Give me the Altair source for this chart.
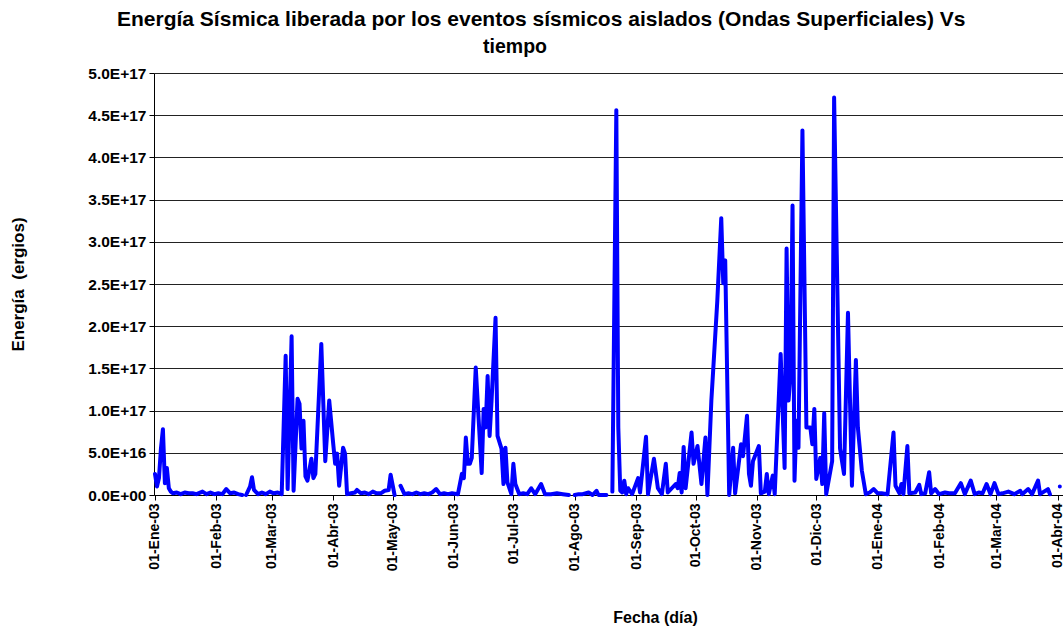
import altair as alt
import pandas as pd

# Días transcurridos desde el 01-Ene-2003 y energía liberada (en unidades de 1e16 ergios).
# Un valor None corta la línea (días sin registro).
dia = [0, 1, 2, 3, 4, 5, 6, 7, 8, 9, 11, 13, 15, 17, 19, 21, 24, 26, 28, 30, 32, 34, 36, 38, 40, 42, 44, 45, 46,
       48, 49, 50, 52, 54, 56, 58, 60, 62, 64, 66, 67, 69, 70, 72, 73, 74, 75, 76, 77, 79, 80, 81, 84, 86, 88,
       90, 91, 92, 93, 95, 96, 97, 99, 101, 102, 104, 106, 108, 110, 112, 114, 116, 118, 119, 121, 122, 124,
       126, 128, 130, 132, 134, 136, 138, 140, 142, 144, 146, 148, 150, 153, 155, 156, 157, 158, 159, 160,
       162, 165, 166, 167, 168, 169, 170, 172, 173, 175, 176, 177, 178, 180, 181, 182, 184, 186, 188, 190,
       192, 195, 197, 200, 203, 206, 209, 210, 212, 214, 216, 219, 221, 223, 224, 226, 228, 229, 231, 233,
       234, 235, 236, 237, 238, 239, 241, 244, 245, 248, 249, 252, 254, 256, 258, 259, 261, 263, 264, 265,
       266, 267, 268, 271, 272, 274, 276, 278, 279, 281, 282, 284, 286, 287, 288, 290, 292, 293, 296, 297,
       299, 300, 301, 302, 305, 306, 308, 309, 310, 312, 313, 316, 318, 319, 320, 321, 322, 323, 324, 325,
       327, 329, 331, 332, 333, 334, 336, 337, 338, 339, 342, 343, 346, 348, 350, 352, 354, 355, 357, 359,
       361, 363, 365, 367, 370, 373, 374, 376, 377, 378, 380, 381, 384, 386, 387, 389, 391, 392, 394, 396,
       399, 401, 404, 407, 409, 412, 414, 416, 418, 420, 422, 424, 426, 428, 431, 434, 437, 438, 441, 443,
       446, 447, 451, 452, 453, 457]

energia_e16 = [2.5, 1.0, 2.0, 5.5, 7.8, 1.4, 3.2, 0.8, 0.4, 0.2, 0.3, 0.1, 0.3, 0.2, 0.2, 0.1, 0.4, 0.1, 0.3, 0.1,
               0.2, 0.1, 0.7, 0.2, 0.3, 0.1, 0.0, None, 0.0,
               1.0, 2.1, 0.6, 0.1, 0.3, 0.1, 0.4, 0.2, 0.3, 0.1, 16.5, 0.7, 18.8, 0.5, 11.4, 10.8, 5.5, 8.8, 2.2,
               1.7, 4.3, 2.0, 2.5, 17.9, 4.0, 11.2,
               6.1, 3.7, 4.9, 1.1, 5.6, 4.9, 0.1, 0.2, 0.3, 0.6, 0.2, 0.3, 0.1, 0.4, 0.2, 0.2, 0.5, 0.6, 2.4, 0.0,
               None, 1.1,
               0.1, 0.2, 0.1, 0.3, 0.1, 0.2, 0.1, 0.3, 0.7, 0.1, 0.2, 0.1, 0.2, 0.1, 2.5, 2.0, 6.8, 3.7, 3.7, 4.4,
               15.1, 2.6, 10.2, 8.0, 14.1, 7.0, 11.2, 21.0, 7.0, 5.5, 1.3, 5.6, 1.5, 0.1, 3.7, 1.3, 0.1, 0.2, 0.1,
               0.8,
               0.1, 1.3, 0.1, 0.1, 0.2, 0.1, 0.0, None, 0.0, 0.1, 0.1, 0.3, 0.0, 0.5, 0.0, 0.0, 0.0, None, 0.4,
               45.6,
               8.0, 0.5, 0.3, 1.7, 0.1, 0.8, 0.1, 2.0, 0.3, 6.9, 0.1, 4.3, 0.8, 0.1, 3.7, 0.3, 0.8, 1.3, 0.8, 2.6,
               0.3, 5.7, 0.8, 7.4, 3.7, 5.8, 1.3, 6.8, 0.0, 11.2, 15.1, 23.0, 32.8, 25.1, 27.8, 0.0, 5.6, 0.2, 6.0,
               4.6,
               9.4, 2.5, 1.1, 4.0, 5.8, 0.2, 0.4, 2.5, 0.1, 2.3, 0.1, 16.7, 3.2, 29.2, 11.2, 14.4, 34.3, 1.7, 8.8,
               5.6,
               43.2, 8.0, 8.0, 6.0, 10.2, 1.9, 4.4, 1.3, 9.7, 0.1, 4.0, 47.1, 5.5, 2.5, 21.6, 1.1, 16.0, 8.0, 2.9,
               0.1,
               0.3, 0.7, 0.2, 0.2, 0.1, 7.4, 1.1, 0.2, 1.3, 0.1, 5.8, 0.2, 0.3, 1.2, 0.1, 0.2, 2.7, 0.2, 0.7, 0.1,
               0.3, 0.2, 0.2, 1.4, 0.1, 1.7, 0.1, 0.3, 0.2, 1.3, 0.1, 1.4, 0.1, 0.2, 0.4, 0.1, 0.5, 0.1, 0.7, 0.1,
               1.7, 0.1, 0.7, 0.1, None, 1.0]

# Marcas del eje X: primer día de cada mes (días desde el 01-Ene-2003)
meses_ticks = [0, 31, 59, 90, 120, 151, 181, 212, 243, 273, 304, 334, 365, 396, 425, 456]
ticks_y = [0, 5e16, 1e17, 1.5e17, 2e17, 2.5e17, 3e17, 3.5e17, 4e17, 4.5e17, 5e17]

titulo_1 = "Energía Sísmica liberada por los eventos sísmicos aislados (Ondas Superficiales) Vs"
titulo_2 = "tiempo"
titulo_y = "Energía\u00a0 (ergios)"
titulo_x = "Fecha (día)"

df = pd.DataFrame({
    "dia": dia,
    "energia": [None if v is None else v * 1e16 for v in energia_e16],
})

FONT = "Liberation Sans"

mes_expr = ("'01-' + ['Ene','Feb','Mar','Abr','May','Jun','Jul','Ago','Sep','Oct','Nov','Dic']"
            "[month(datetime(2003, 0, 1 + datum.value))] + '-' + "
            "timeFormat(datetime(2003, 0, 1 + datum.value), '%y')")

x = alt.X(
    "dia:Q",
    scale=alt.Scale(domain=[-0.5, 458.6], nice=False, zero=False),
    axis=alt.Axis(
        values=meses_ticks, labelExpr=mes_expr, labelAngle=270, labelAlign="right",
        labelBaseline="middle", labelFont=FONT, labelFontWeight="bold", labelFontSize=14,
        labelColor="black", labelPadding=3, tickColor="black", tickSize=5, domainColor="black",
        grid=False, title=titulo_x, titleFont=FONT, titleFontWeight="bold", titleFontSize=16,
        titleColor="black", titleX=501, titleY=122, titleBaseline="middle", titleAlign="center",
    ),
)
y = alt.Y(
    "energia:Q",
    scale=alt.Scale(domain=[0, 5e17], nice=False),
    axis=alt.Axis(
        values=ticks_y,
        labelExpr="datum.value == 0 ? '0.0E+00' : upper(format(datum.value, '.1e'))",
        labelFont=FONT, labelFontWeight="bold", labelFontSize=15.5, labelColor="black", labelPadding=3,
        tickColor="black", tickSize=5, domainColor="black",
        grid=True, gridColor="#222222", gridWidth=1,
        title=titulo_y, titleFont=FONT, titleFontWeight="bold", titleFontSize=17,
        titleColor="black", titleAngle=270, titleX=-136, titleY=211, titleAlign="center",
        titleBaseline="middle",
    ),
)

linea = alt.Chart(df).mark_line(color="#0000FF", strokeWidth=4, strokeJoin="round",
                                strokeCap="round").encode(x=x, y=y)

df_tit = pd.DataFrame({"texto": [titulo_1, titulo_2], "linea": [1, 2]})
tit1 = alt.Chart(df_tit).transform_filter("datum.linea == 1").mark_text(
    font=FONT, fontWeight="bold", fontSize=21, align="left", baseline="middle", color="black"
).encode(text="texto:N", x=alt.value(-37), y=alt.value(-53))
tit2 = alt.Chart(df_tit).transform_filter("datum.linea == 2").mark_text(
    font=FONT, fontWeight="bold", fontSize=19.5, align="center", baseline="middle", color="black"
).encode(text="texto:N", x=alt.value(361), y=alt.value(-26))

chart = alt.layer(linea, tit1, tit2).properties(
    width=909, height=422,
    padding={"left": 154, "top": 73, "right": 0, "bottom": 133},
    autosize=alt.AutoSizeParams(type="none"),
    background="white",
).configure_view(stroke=None)

chart.save("out.html", embed_options={"renderer": "svg", "actions": False})
